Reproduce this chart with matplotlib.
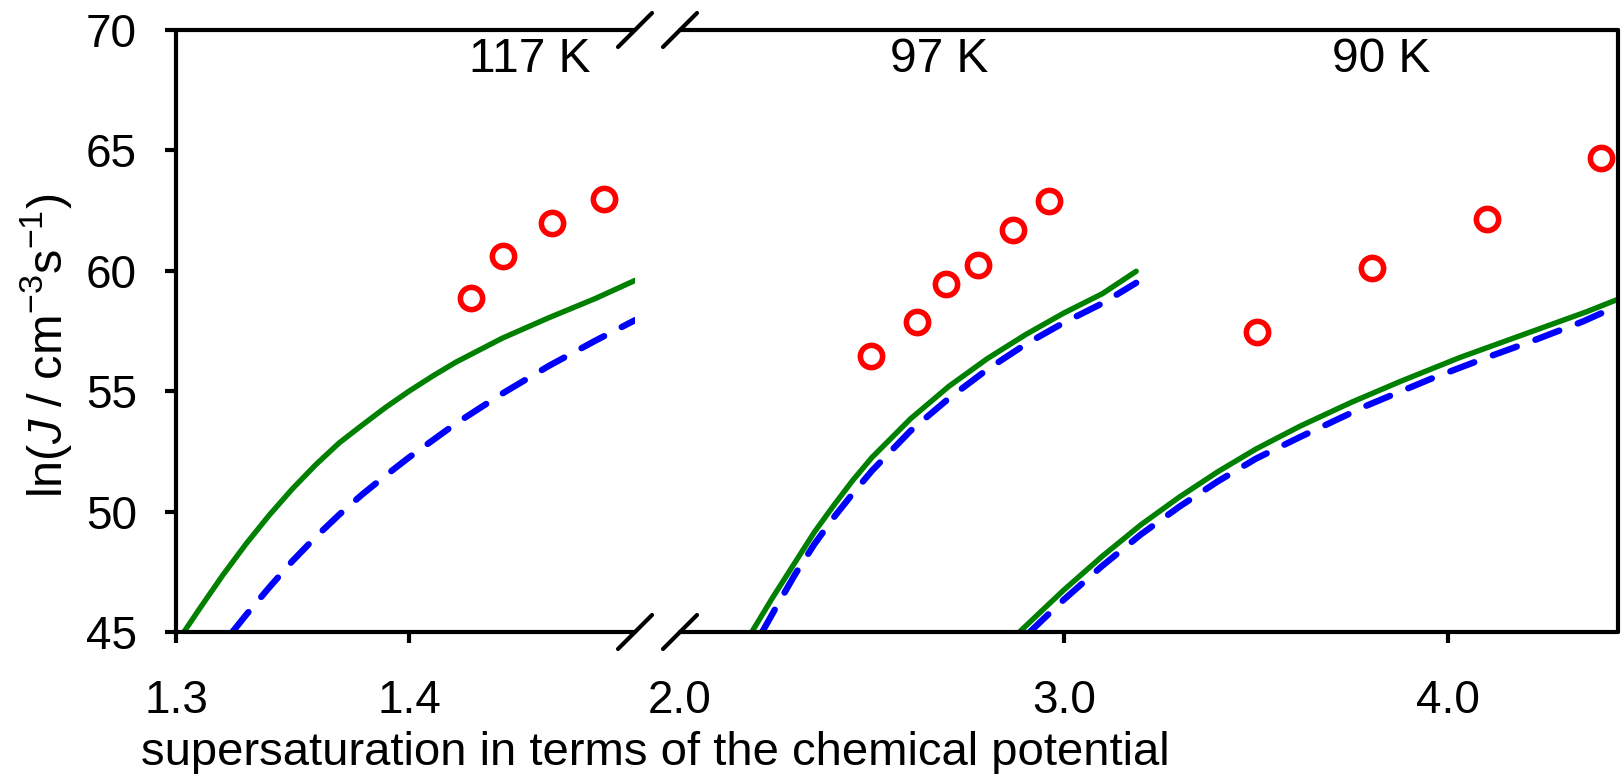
import matplotlib
matplotlib.use("Agg")
import matplotlib.pyplot as plt
import numpy as np

plt.rcParams["font.family"] = ["Liberation Sans", "DejaVu Sans"]
plt.rcParams["mathtext.fontset"] = "custom"
plt.rcParams["mathtext.rm"] = "Liberation Sans"
plt.rcParams["mathtext.it"] = "Liberation Sans:italic"

# experimental points (red circles)
x_exp_117 = [1.4265, 1.4405, 1.4615, 1.4837]
y_exp_117 = [58.88, 60.61, 61.97, 62.98]
x_exp_97 = [2.497, 2.616, 2.693, 2.775, 2.868, 2.961]
y_exp_97 = [56.47, 57.86, 59.46, 60.25, 61.69, 62.90]
x_exp_90 = [3.503, 3.802, 4.102, 4.398]
y_exp_90 = [57.44, 60.12, 62.17, 64.68]

# model curves, green solid
x_g_117 = [1.3034, 1.31, 1.32, 1.33, 1.34, 1.35, 1.36, 1.37, 1.38, 1.39, 1.40,
           1.41, 1.42, 1.44, 1.46, 1.48, 1.497]
y_g_117 = [45.0, 45.95, 47.35, 48.65, 49.85, 50.95, 51.95, 52.85, 53.6, 54.33,
           55.0, 55.62, 56.2, 57.2, 58.05, 58.85, 59.6]
x_g_97 = [2.187, 2.24, 2.3, 2.35, 2.4, 2.45, 2.5, 2.6, 2.7, 2.8, 2.9, 3.0,
          3.1, 3.188]
y_g_97 = [45.0, 46.4, 47.9, 49.15, 50.25, 51.3, 52.25, 53.85, 55.2, 56.35,
          57.35, 58.25, 59.05, 59.98]
x_g_90 = [2.884, 2.95, 3.0, 3.1, 3.2, 3.3, 3.4, 3.5, 3.615, 3.75, 3.875,
          4.031, 4.222, 4.361, 4.443]
y_g_90 = [45.0, 46.0, 46.75, 48.15, 49.45, 50.6, 51.65, 52.6, 53.55, 54.55,
          55.4, 56.4, 57.5, 58.3, 58.82]

# model curves, blue dashed
x_b_117 = [1.3242, 1.33, 1.34, 1.35, 1.36, 1.37, 1.38, 1.39, 1.40, 1.42,
           1.44, 1.46, 1.48, 1.497]
y_b_117 = [45.0, 45.7, 46.85, 47.95, 48.95, 49.87, 50.72, 51.5, 52.25, 53.65,
           54.9, 56.05, 57.1, 57.95]
x_b_97 = [2.214, 2.26, 2.3, 2.35, 2.4, 2.45, 2.5, 2.6, 2.7, 2.8, 2.9, 3.0,
          3.1, 3.188]
y_b_97 = [45.0, 46.3, 47.4, 48.65, 49.75, 50.75, 51.7, 53.35, 54.7, 55.9,
          56.95, 57.85, 58.65, 59.5]
x_b_90 = [2.911, 2.97, 3.0, 3.1, 3.2, 3.3, 3.4, 3.5, 3.615, 3.788, 3.961,
          4.101, 4.222, 4.352, 4.443]
y_b_90 = [45.0, 45.9, 46.35, 47.75, 49.05, 50.2, 51.25, 52.2, 53.1, 54.4,
          55.55, 56.4, 57.1, 57.9, 58.55]

temps = ["117 K", "97 K", "90 K"]

W, H = 1624, 774
fig = plt.figure(figsize=(W / 100, H / 100), dpi=100)
bot = (H - 632) / H
hgt = 602 / H
ax1 = fig.add_axes([176 / W, bot, 459 / W, hgt])
ax2 = fig.add_axes([680 / W, bot, 938 / W, hgt])

fs = 33
lw_sp = 3.0
green = "#008000"
blue = "#0000FF"
red = "#FF0000"
circ = dict(ms=16, mfc="none", mec=red, mew=4, ls="none", marker="o")
gline = dict(color=green, lw=3.9, solid_capstyle="round",
             solid_joinstyle="round")
bline = dict(color=blue, lw=4.6, dashes=(4.0, 3.1), dash_capstyle="round")

ax1.plot(x_g_117, y_g_117, **gline)
ax1.plot(x_b_117, y_b_117, **bline)
ax1.plot(x_exp_117, y_exp_117, **circ)

for xg, yg, xb, yb in [(x_g_97, y_g_97, x_b_97, y_b_97),
                       (x_g_90, y_g_90, x_b_90, y_b_90)]:
    ax2.plot(xg, yg, **gline)
    ax2.plot(xb, yb, **bline)
ax2.plot(x_exp_97, y_exp_97, **circ)
ax2.plot(x_exp_90, y_exp_90, **circ)

ax1.set_xlim(1.3, 1.3 + 459 / 2330)
ax2.set_xlim(2.0, 2.0 + 938 / 384)
for ax in (ax1, ax2):
    ax.set_ylim(45, 70)
    for s in ax.spines.values():
        s.set_linewidth(lw_sp)
        s.set_capstyle("round")
    ax.tick_params(width=lw_sp, length=8, labelsize=fs, pad=26,
                   direction="out")

ax1.spines["right"].set_visible(False)
ax2.spines["left"].set_visible(False)
ax1.set_xticks([1.3, 1.4], ["1.3", "1.4"])
ax1.set_yticks([45, 50, 55, 60, 65, 70])
ax1.tick_params(axis="y", pad=20)
ax2.set_xticks([2.0, 3.0, 4.0], ["2.0", "3.0", "4.0"])
ax2.xaxis.get_major_ticks()[0].tick1line.set_visible(False)
ax2.set_yticks([])

# break marks
for ax, wpx, side in [(ax1, 459, 1.0), (ax2, 938, 0.0)]:
    dx = 17 / wpx
    dy = 17 / 602
    for yy in (0.0, 1.0):
        ax.plot([side - dx, side + dx], [yy - dy, yy + dy],
                transform=ax.transAxes, color="black", lw=lw_sp,
                solid_capstyle="round", clip_on=False)

for xc, t in zip([530, 939, 1381], temps):
    fig.text(xc / W, 1 - 60 / H, t, fontsize=34.5, ha="center",
             va="center")

fig.text(655 / W, 1 - 765 / H,
         "supersaturation in terms of the chemical potential",
         fontsize=34, ha="center", va="baseline")
fig.text(46 / W, 1 - 346 / H,
         r"ln($\mathit{J}$ / cm$^{-3}$s$^{-1}$)",
         fontsize=35, ha="center", va="center", rotation=90)

fig.savefig("out.png", dpi=100)
